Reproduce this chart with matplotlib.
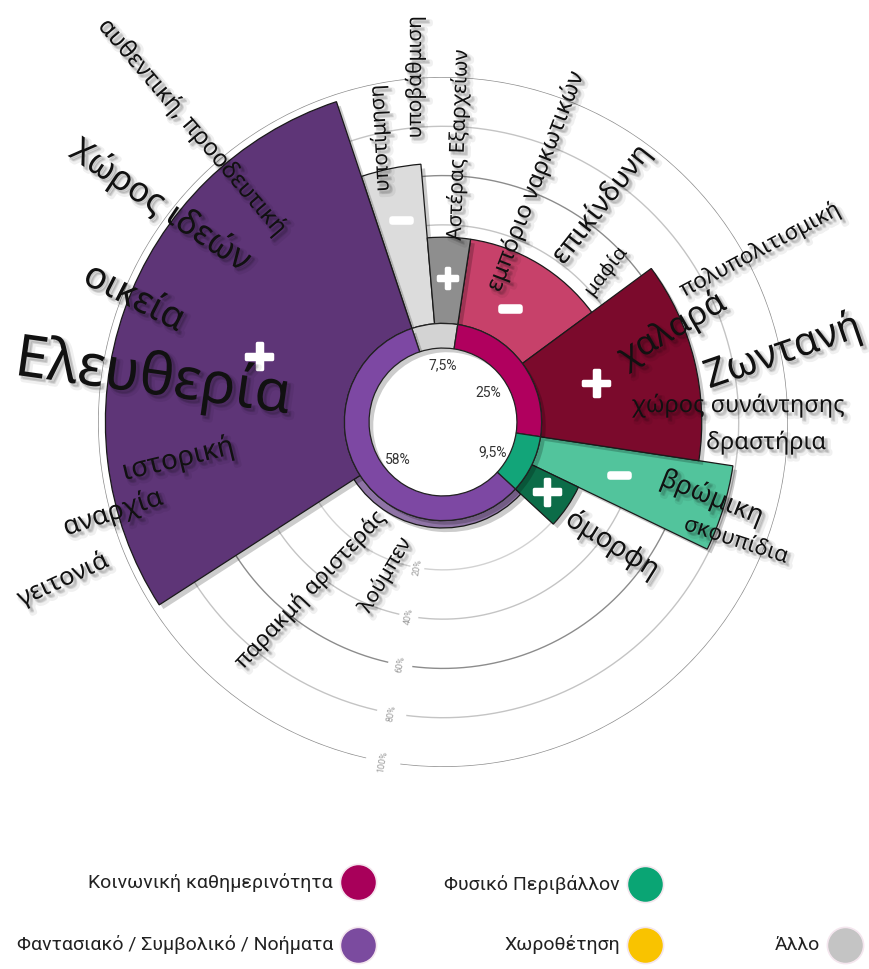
import numpy as np
import matplotlib
matplotlib.use("Agg")
import matplotlib.pyplot as plt
import matplotlib.patheffects as pe

W, H = 870, 969

# inner ring: share of each category, clockwise from the top
categories = ['Άλλο', 'Κοινωνική καθημερινότητα', 'Φυσικό Περιβάλλον',
              'Φαντασιακό / Συμβολικό / Νοήματα']
shares = [7.5, 25, 9.5, 58]
share_labels = ['7,5%', '25%', '9,5%', '58%']

# outer wedges: negative (first half) and positive (second half) of each category
neg_pct = [65, 35, 79, 3]
pos_pct = [35, 65, 21, 97]

ring_colors = ['#d3d3d3', '#b0005e', '#12a579', '#7d48a3']
neg_colors = ['#dcdcdc', '#c7416a', '#52c49c', '#8f74a6']
pos_colors = ['#8e8e8e', '#7b0a2c', '#0c6c48', '#5e3577']

grid_pct = [20, 40, 60, 80, 100]

words = ['αυθεντική, προοδευτική', 'Χώρος ιδεών', 'οικεία', 'Ελευθερία',
         'ιστορική', 'αναρχία', 'γειτονιά', 'παρακμή αριστεράς', 'λούμπεν',
         'υποτίμηση', 'υποβάθμιση', 'Αστέρας Εξαρχείων', 'εμπόριο ναρκωτικών',
         'επικίνδυνη', 'μαφία', 'πολυπολιτισμική', 'χαλαρά', 'Ζωντανή',
         'χώρος συνάντησης', 'δραστήρια', 'βρώμικη', 'σκουπίδια', 'όμορφη']

legend_labels = ['Κοινωνική καθημερινότητα', 'Φυσικό Περιβάλλον',
                 'Φαντασιακό / Συμβολικό / Νοήματα', 'Χωροθέτηση', 'Άλλο']
legend_colors = ['#a8005a', '#0aa574', '#7b4b9f', '#f9c300', '#c4c4c4']

# ---- layout (pixels in the 870x969 picture) ----
word_layout = [  # x, y, rotation, size
    (192, 128, -49.5, 17.5), (160, 206, -33.7, 25), (134, 298, -27, 27),
    (153, 378, -8, 42), (178, 460, 13.5, 20), (113, 513, 18, 19),
    (63, 580, 24.7, 18), (310, 590, 46.7, 16), (385, 575, 59.4, 15),
    (380, 138, 93, 15), (415, 77, 90, 15), (458, 145, 88, 15),
    (536, 182, 69, 17), (602, 205, 52, 20), (606, 272, 52, 14),
    (760, 250, 28, 16), (672, 330, 30, 24), (783, 352, 19, 28.5),
    (738, 406, 0, 17), (766, 443, 0, 17), (712, 498, -21.5, 19),
    (736, 541, -18, 16), (612, 545, -32, 20)]
share_label_xy = [(443, 365), (488, 393), (493, 452), (398, 460)]
neg_sign_r = [83, 53, 75, None]
pos_sign_r = [58, 64, 51, 79]
pos_sign_size = [22, 30, 30, 30]
legend_xy = [(358, 882), (645, 884), (358, 945), (645, 945), (845, 945)]

CX, CY, RPX = 443, 422, 345
R_IN, R0, RMAX = 30, 40, 140
start = -18.4

fig = plt.figure(figsize=(W / 100, H / 100), dpi=100)
fig.patch.set_facecolor('white')

ax = fig.add_axes([(CX - RPX) / W, (H - CY - RPX) / H, 2 * RPX / W, 2 * RPX / H],
                  projection='polar', zorder=1)
ax.set_theta_zero_location('N')
ax.set_theta_direction(-1)
ax.set_ylim(0, RMAX)
ax.axis('off')

edges = start + np.concatenate([[0], np.cumsum(shares)]) * 3.6
span = np.diff(edges)
mid = (edges[:-1] + edges[1:]) / 2

# grid circles with a gap for the labels
th = np.radians(np.linspace(193, 187 + 360, 600))
grid_col = ['#d2d2d2', '#c4c4c4', '#8c8c8c', '#c4c4c4', '#8c8c8c']
for k, c in zip(grid_pct, grid_col):
    ax.plot(th, np.full_like(th, R0 + k), color=c, lw=1.0, zorder=0.5)
    ax.text(np.radians(190), R0 + k, f'{k}%', rotation=80, ha='center',
            va='center', fontsize=6.5, color='#9a9a9a', family='Roboto')

shadow = [pe.SimplePatchShadow(offset=(3, -3), shadow_rgbFace='k', alpha=0.2),
          pe.Normal()]

neg_bars = ax.bar(np.radians(edges[:-1] + span / 4), neg_pct,
                  width=np.radians(span / 2), bottom=R0, color=neg_colors,
                  edgecolor='#1a1a1a', linewidth=0.9, zorder=2)
pos_bars = ax.bar(np.radians(edges[:-1] + 3 * span / 4), pos_pct,
                  width=np.radians(span / 2), bottom=R0, color=pos_colors,
                  edgecolor='#1a1a1a', linewidth=0.9, zorder=2)
ring = ax.bar(np.radians(mid), R0 - R_IN, width=np.radians(span), bottom=R_IN,
              color=ring_colors, edgecolor='#222222', linewidth=0.9, zorder=3)
for p in list(neg_bars) + list(pos_bars) + list(ring):
    p.set_path_effects(shadow)

sign_fx = [pe.Stroke(linewidth=4, foreground='white'), pe.Normal()]
for i in range(len(categories)):
    if neg_sign_r[i] is not None:
        ax.text(np.radians(edges[i] + span[i] / 4), neg_sign_r[i], '−',
                ha='center', va='center', color='white', fontsize=22,
                fontweight='bold', family='DejaVu Sans', path_effects=sign_fx,
                zorder=5)
    ax.text(np.radians(edges[i] + 3 * span[i] / 4), pos_sign_r[i], '+',
            ha='center', va='center', color='white', fontsize=pos_sign_size[i],
            fontweight='bold', family='DejaVu Sans',
            path_effects=[pe.Stroke(linewidth=2.5, foreground='white'), pe.Normal()],
            zorder=5)

# overlay in picture pixels for the words and the legend
pix = fig.add_axes([0, 0, 1, 1], zorder=2)
pix.set_xlim(0, W)
pix.set_ylim(H, 0)
pix.axis('off')

txt_fx = [pe.Stroke(offset=(3, -3), linewidth=4, foreground='k', alpha=0.06),
          pe.Stroke(offset=(2, -2), linewidth=1.5, foreground='k', alpha=0.1),
          pe.Normal()]
for w, (x, y, rot, size) in zip(words, word_layout):
    pix.text(x, y, w, rotation=rot, rotation_mode='anchor', ha='center',
             va='center', fontsize=size, color='#111111',
             family=['Noto Sans', 'DejaVu Sans'], path_effects=txt_fx,
             clip_on=False)

for lab, (x, y) in zip(share_labels, share_label_xy):
    pix.text(x, y, lab, ha='center', va='center', fontsize=10,
             color='#333333', family='Roboto')

for lab, c, (x, y) in zip(legend_labels, legend_colors, legend_xy):
    pix.scatter([x], [y], s=680, color=c, edgecolors='#f4e6ee', linewidths=1.2)
    pix.text(x - 25, y, lab, ha='right', va='center', fontsize=14,
             color='#222222', family='Roboto')

fig.savefig('out.png', dpi=100, facecolor='white')
